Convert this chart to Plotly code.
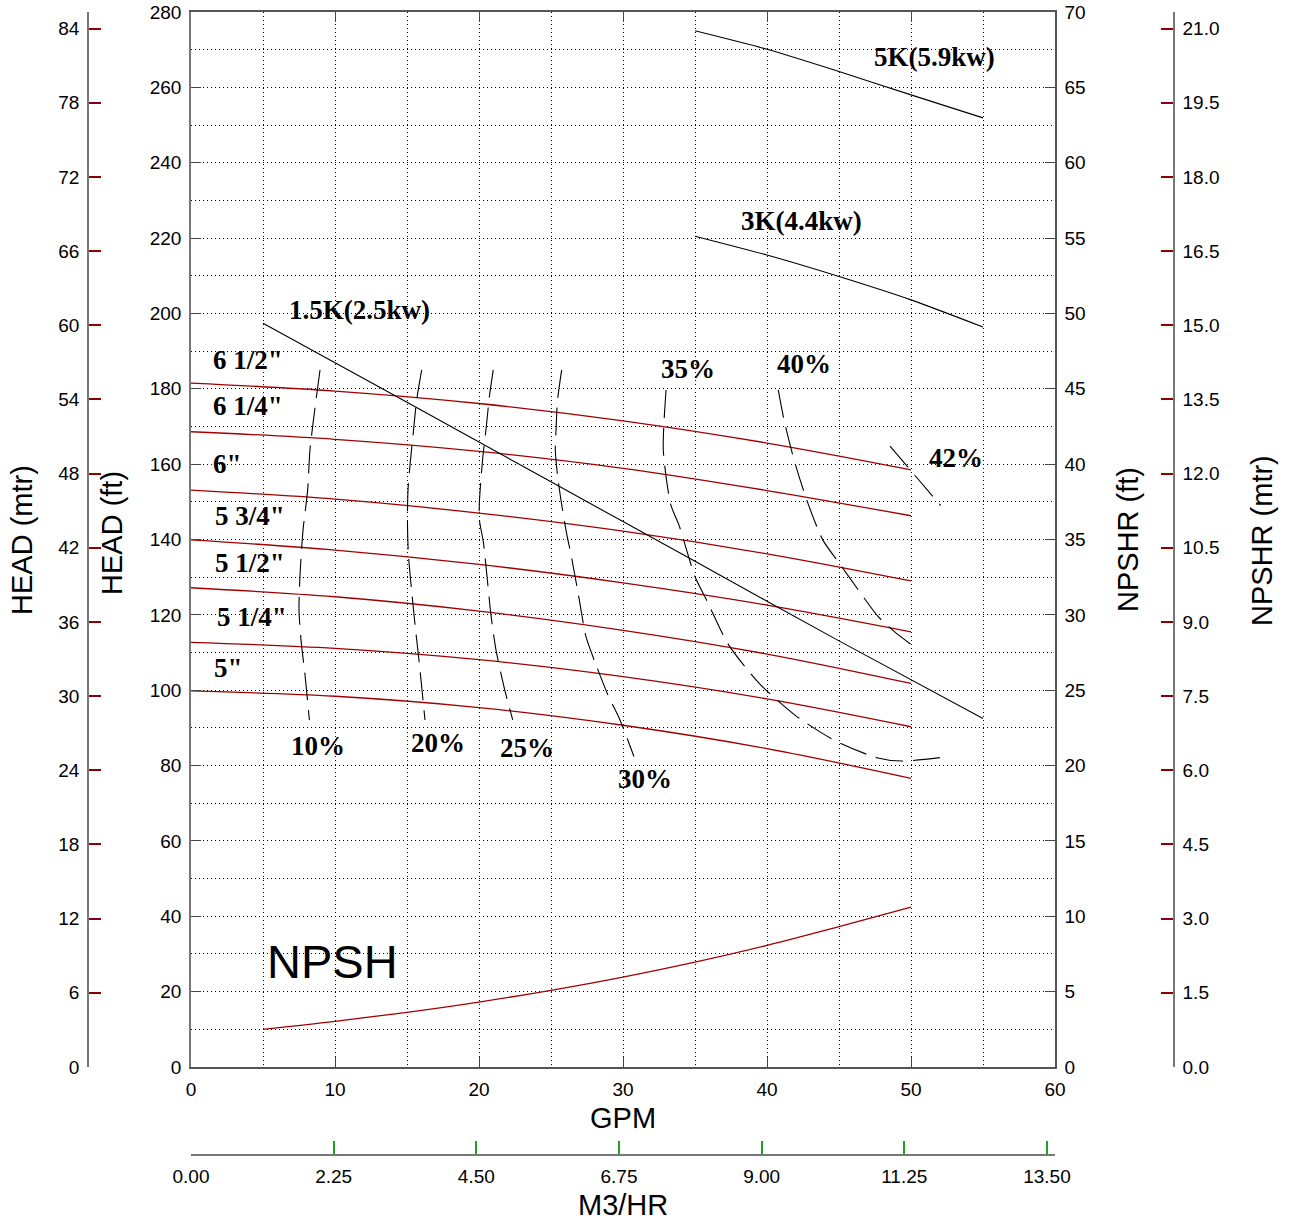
import plotly.graph_objects as go

W, H = 1293, 1222

# ---------------- data ----------------
gpm_imp = [0, 10, 20, 30, 40, 50]
imp_labels = ['6 1/2"', '6 1/4"', '6"', '5 3/4"', '5 1/2"', '5 1/4"', '5"']
imp_heads = [
    [181.5, 179.4, 176.1, 171.5, 165.6, 158.5],
    [168.6, 166.6, 163.4, 158.9, 153.0, 146.3],
    [153.1, 150.7, 147.0, 142.2, 136.2, 129.0],
    [139.9, 137.2, 133.4, 128.5, 122.6, 115.5],
    [127.2, 124.8, 121.0, 115.9, 109.6, 101.8],
    [112.7, 111.1, 108.1, 103.6, 97.7, 90.3],
    [99.8, 98.4, 95.4, 90.7, 84.5, 76.6],
]
imp_label_gpm = [3.96, 3.96, 2.5, 4.1, 4.1, 4.24, 2.6]
imp_label_head = [187.6, 175.4, 160.0, 146.2, 133.8, 119.4, 105.9]

# motor power lines
p15_gpm = [5, 15, 25, 35, 45, 55]
p15_head = [197.4, 176.4, 155.3, 134.2, 113.1, 92.5]
p3_gpm = [35, 40, 45, 50, 55]
p3_head = [220.5, 215.5, 209.8, 203.6, 196.4]
p5_gpm = [35, 40, 45, 50, 55]
p5_head = [275.0, 270.1, 264.2, 258.0, 251.9]
power_labels = ["1.5K(2.5kw)", "3K(4.4kw)", "5K(5.9kw)"]
power_label_gpm = [11.7, 42.4, 51.6]
power_label_head = [200.9, 224.5, 268.0]

# efficiency curves
eff10_gpm = [8.96, 8.61, 8.26, 8.10, 7.78, 7.57, 7.50, 7.64, 7.92, 8.22]
eff10_head = [185.0, 174.9, 163.7, 153.1, 142.5, 130.6, 121.3, 113.3, 104.0, 92.1]
eff20_gpm = [16.02, 15.67, 15.42, 15.21, 15.07, 15.03, 15.10, 15.35, 15.56, 15.83, 16.25]
eff20_head = [185.0, 177.0, 167.7, 159.8, 153.1, 145.2, 135.9, 125.3, 117.3, 108.0, 92.1]
eff25_gpm = [20.99, 20.72, 20.52, 20.28, 20.14, 20.02, 20.03, 20.31, 20.60, 20.83, 21.18, 21.74, 22.34]
eff25_head = [185.0, 177.9, 170.4, 162.4, 156.3, 149.2, 145.2, 139.1, 128.5, 120.0, 110.7, 100.8, 92.1]
eff30_gpm = [25.74, 25.45, 25.35, 25.30, 25.45, 25.69, 26.04, 26.46, 26.97, 27.43, 28.13, 28.96, 29.79, 30.76]
eff30_head = [185.0, 176.8, 169.1, 163.7, 157.1, 150.5, 142.5, 134.6, 123.9, 114.2, 106.7, 98.7, 92.1, 82.4]
eff35_gpm = [32.99, 32.80, 33.32, 33.89, 34.42, 35.0, 35.87, 37.29, 39.44, 42.01, 44.78, 47.62, 49.35, 52.01]
eff35_head = [179.7, 163.7, 149.2, 143.8, 137.2, 130.1, 123.4, 112.3, 101.9, 93.2, 86.5, 82.1, 81.2, 82.1]
eff40_gpm = [40.78, 41.18, 41.88, 42.76, 43.87, 45.0, 46.27, 47.73, 48.89, 50.05]
eff40_head = [179.7, 171.8, 161.1, 150.5, 139.9, 133.8, 127.0, 119.5, 115.4, 112.0]
eff42_gpm = [48.54, 52.06]
eff42_head = [164.8, 149.0]
eff_labels = ["10%", "20%", "25%", "30%", "35%", "40%", "42%"]
eff_label_gpm = [8.82, 17.15, 23.33, 31.5, 34.5, 42.6, 53.1]
eff_label_head = [85.2, 86.0, 84.7, 76.4, 185.2, 186.6, 161.6]

# NPSH required (ft, right axis)
npsh_gpm = [5, 10, 15, 20, 25, 30, 35, 40, 45, 50]
npsh_ft = [2.5, 3.03, 3.63, 4.31, 5.09, 5.97, 6.96, 8.07, 9.31, 10.6]

# axis ranges
gpm_max = 60
head_ft_max = 280
npshr_ft_max = 70
FT_PER_M = 3.2808
GPM_PER_M3H = 4.4029

# ---------------- figure ----------------
RED = "#a00000"
fig = go.Figure()

for lab, hd in zip(imp_labels, imp_heads):
    fig.add_trace(go.Scatter(x=gpm_imp, y=hd, mode="lines", name=lab,
                             line=dict(color=RED, width=1.3, shape="spline", smoothing=1.0),
                             showlegend=False))

for gx, hy in [(p15_gpm, p15_head), (p3_gpm, p3_head), (p5_gpm, p5_head)]:
    fig.add_trace(go.Scatter(x=gx, y=hy, mode="lines",
                             line=dict(color="black", width=1.1, shape="spline", smoothing=0.6),
                             showlegend=False))

for gx, hy in [(eff10_gpm, eff10_head), (eff20_gpm, eff20_head), (eff25_gpm, eff25_head),
               (eff30_gpm, eff30_head), (eff35_gpm, eff35_head), (eff40_gpm, eff40_head),
               (eff42_gpm, eff42_head)]:
    fig.add_trace(go.Scatter(x=gx, y=hy, mode="lines",
                             line=dict(color="black", width=1.1, dash="28px,10px",
                                       shape="spline", smoothing=0.7),
                             showlegend=False))

fig.add_trace(go.Scatter(x=npsh_gpm, y=npsh_ft, mode="lines", yaxis="y2",
                         line=dict(color=RED, width=1.3, shape="spline", smoothing=1.0),
                         showlegend=False))

# empty traces so that the metric axes are drawn
fig.add_trace(go.Scatter(x=[], y=[], xaxis="x2", yaxis="y3", showlegend=False, hoverinfo="skip"))
fig.add_trace(go.Scatter(x=[], y=[], xaxis="x2", yaxis="y4", showlegend=False, hoverinfo="skip"))

# domains in paper coords (margins zero)
x0, x1 = 191 / W, 1055 / W
y0, y1 = (H - 1067) / H, (H - 12) / H

tickfont = dict(family="Liberation Sans, Arial", size=19, color="black")
grid = dict(showgrid=True, gridcolor="black", gridwidth=1, griddash="1px,3px")

fig.update_layout(
    width=W, height=H, autosize=False,
    margin=dict(l=0, r=0, t=0, b=0, pad=0, autoexpand=False),
    paper_bgcolor="white", plot_bgcolor="white",
    showlegend=False,
    xaxis=dict(domain=[x0, x1], range=[0, gpm_max], dtick=10, tick0=0,
               ticks="inside", ticklen=10, tickcolor="#444", automargin=False,
               showline=True, linecolor="#555", linewidth=1.5, mirror="ticks",
               tickfont=tickfont, zeroline=False, ticklabelstandoff=4,
               minor=dict(dtick=5, **grid), **grid),
    yaxis=dict(domain=[y0, y1], range=[0, head_ft_max], dtick=20, tick0=0,
               ticks="inside", ticklen=10, tickcolor="#444", automargin=False,
               showline=True, linecolor="#777", linewidth=1.5,
               tickfont=tickfont, zeroline=False, ticklabelstandoff=4,
               minor=dict(dtick=10, **grid), **grid),
    yaxis2=dict(overlaying="y", side="right", anchor="x", range=[0, npshr_ft_max],
                dtick=5, tick0=0, ticks="inside", ticklen=10, tickcolor="#444",
                showline=True, linecolor="#555", linewidth=1.5, showgrid=False,
                automargin=False,
                zeroline=False, tickfont=tickfont, ticklabelstandoff=4),
    yaxis3=dict(overlaying="y", side="left", anchor="free", position=88 / W,
                range=[0, head_ft_max / FT_PER_M], dtick=6, tick0=0,
                ticks="inside", ticklen=12, tickwidth=1.5, tickcolor="#8b0000", automargin=False,
                showline=True, linecolor="#777", linewidth=1.5, showgrid=False,
                zeroline=False, tickfont=tickfont, ticklabelstandoff=4),
    yaxis4=dict(overlaying="y", side="right", anchor="free", position=1174 / W,
                range=[0, npshr_ft_max / FT_PER_M], dtick=1.5, tick0=0, tickformat=".1f",
                ticks="inside", ticklen=12, tickwidth=1.5, tickcolor="#8b0000", automargin=False,
                showline=True, linecolor="#777", linewidth=1.5, showgrid=False,
                zeroline=False, tickfont=tickfont, ticklabelstandoff=4),
    xaxis2=dict(overlaying="x", side="bottom", anchor="free", position=(H - 1155) / H,
                range=[0, gpm_max / GPM_PER_M3H], dtick=2.25, tick0=0, tickformat=".2f",
                ticks="inside", ticklen=13, tickwidth=1.5, tickcolor="#22a022", automargin=False,
                showline=True, linecolor="#777", linewidth=1.5, showgrid=False,
                zeroline=False, tickfont=tickfont, ticklabelstandoff=4),
)

ann = []
title_font = dict(family="Liberation Sans, Arial", size=29, color="black")
for txt, px, py, ang in [("HEAD (mtr)", 22, 540, -90), ("HEAD (ft)", 112, 533, -90),
                         ("NPSHR (ft)", 1128, 540, -90), ("NPSHR (mtr)", 1262, 541, -90),
                         ("GPM", 623, 1118, 0), ("M3/HR", 623, 1205, 0)]:
    ann.append(dict(text=txt, x=px / W, y=(H - py) / H, xref="paper", yref="paper",
                    showarrow=False, textangle=ang, font=title_font,
                    xanchor="center", yanchor="middle"))

lab_font = dict(family="Liberation Serif, Times New Roman", size=27, color="black")
for txt, gx, hy in zip(imp_labels + power_labels + eff_labels,
                       imp_label_gpm + power_label_gpm + eff_label_gpm,
                       imp_label_head + power_label_head + eff_label_head):
    ann.append(dict(text="<b>" + txt + "</b>", x=gx, y=hy, xref="x", yref="y",
                    showarrow=False, font=lab_font, xanchor="center", yanchor="middle"))

ann.append(dict(text="NPSH", x=9.86, y=27.9, xref="x", yref="y", showarrow=False,
                font=dict(family="Liberation Sans, Arial", size=47, color="black"),
                xanchor="center", yanchor="middle"))
fig.update_layout(annotations=ann)

fig.write_html("out.html", config={"displayModeBar": False},
               post_script="document.body.style.margin='0';document.body.style.overflow='hidden';")
